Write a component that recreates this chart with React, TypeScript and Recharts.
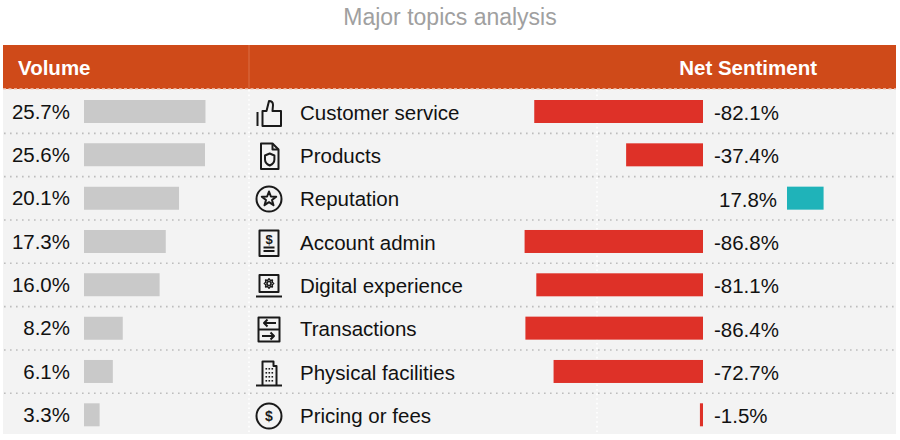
import React from 'react';
import { BarChart, Bar, XAxis, YAxis, LabelList, Cell } from 'recharts';

const topics = [
  'Customer service',
  'Products',
  'Reputation',
  'Account admin',
  'Digital experience',
  'Transactions',
  'Physical facilities',
  'Pricing or fees',
];
const volume = [25.7, 25.6, 20.1, 17.3, 16.0, 8.2, 6.1, 3.3];
const sentiment = [-82.1, -37.4, 17.8, -86.8, -81.1, -86.4, -72.7, -1.5];
const icons = ['thumb', 'doc', 'star', 'bill', 'laptop', 'swap', 'building', 'dollar'];

const FONT = '"Liberation Sans", Arial, Helvetica, sans-serif';
const ORANGE = '#CF4A19';
const RED = '#DE3128';
const TEAL = '#1FB3B9';
const TEXT = '#111';
const FS = 20.5;
const ROW_TOP = 90;
const ROW_H = 43.33;
const BODY_H = ROW_H * topics.length;

const rows = topics.map((topic, i) => ({
  topic,
  volume: volume[i],
  sentiment: sentiment[i],
  icon: icons[i],
}));

const pct = (v: number) => `${v.toFixed(1)}%`;

// positive bars sit to the right of their label, like the original
function SentimentShape(props: any) {
  const { x, y, width, height, fill, value } = props;
  const v = Array.isArray(value) ? value[1] - value[0] : value;
  const x0 = Math.min(x, x + width);
  const w = Math.abs(width);
  const shift = v > 0 ? 84 : 0;
  return <rect x={x0 + shift} y={y} width={w} height={height} fill={fill} />;
}

function SentimentLabel(props: any) {
  const { x, y, width, height, value } = props;
  const zero = value < 0 ? Math.max(x, x + width) : Math.min(x, x + width);
  return (
    <text
      x={zero + (value < 0 ? 11 : 16)}
      y={y + height / 2 + 1}
      dominantBaseline="central"
      textAnchor="start"
      fontSize={FS}
      fontFamily={FONT}
      fill={TEXT}
    >
      {pct(value)}
    </text>
  );
}

function Icon({ kind }: { kind: string }) {
  const s = { fill: 'none', stroke: '#1a1a1a', strokeWidth: 2, strokeLinejoin: 'round' as const };
  let body: React.ReactNode = null;
  if (kind === 'thumb') {
    body = (
      <g {...s}>
        <line x1="3.5" y1="14" x2="3.5" y2="28" />
        <path d="M8.5 13 L12.5 13 L15 3 Q19 3 19 7 L18.5 13 L27 13 L27 28 L8.5 28 Z" />
      </g>
    );
  } else if (kind === 'doc') {
    body = (
      <g {...s}>
        <path d="M7 2.5 H18.5 L24.5 8.5 V28 H7 Z" />
        <path d="M18.5 2.5 V8.5 H24.5" />
        <path d="M11 14.5 L15.7 12.5 L20.4 14.5 V18.5 Q20.4 22.5 15.7 24.5 Q11 22.5 11 18.5 Z" />
      </g>
    );
  } else if (kind === 'star') {
    body = (
      <g {...s}>
        <circle cx="15" cy="15" r="12.5" />
        <path d="M15 7.5 L16.9 12.5 L22.2 12.7 L18 16 L19.5 21.2 L15 18.2 L10.5 21.2 L12 16 L7.8 12.7 L13.1 12.5 Z" />
      </g>
    );
  } else if (kind === 'bill') {
    body = (
      <g>
        <rect x="5.5" y="2.5" width="19" height="25.5" {...s} />
        <text x="15" y="15.5" textAnchor="middle" fontSize="13" fontWeight="bold" fontFamily={FONT} fill="#1a1a1a">$</text>
        <line x1="9.5" y1="19.5" x2="20.5" y2="19.5" {...s} />
        <line x1="9.5" y1="23" x2="20.5" y2="23" {...s} />
      </g>
    );
  } else if (kind === 'laptop') {
    body = (
      <g {...s}>
        <rect x="5.5" y="4" width="19" height="17" />
        <circle cx="15" cy="12.5" r="2" strokeWidth={1.6} />
        <path
          d="M15 7.8 L16.3 9.4 L18.4 9.1 L18.2 11.2 L19.7 12.5 L18.2 13.8 L18.4 15.9 L16.3 15.6 L15 17.2 L13.7 15.6 L11.6 15.9 L11.8 13.8 L10.3 12.5 L11.8 11.2 L11.6 9.1 L13.7 9.4 Z"
          strokeWidth={1.5}
        />
        <line x1="2" y1="25.5" x2="28" y2="25.5" />
      </g>
    );
  } else if (kind === 'swap') {
    body = (
      <g {...s}>
        <rect x="4.5" y="3.5" width="21" height="24" />
        <line x1="4.5" y1="15.5" x2="25.5" y2="15.5" />
        <path d="M22 9 H10 M13.5 5.5 L10 9 L13.5 12.5" />
        <path d="M8 22 H20 M16.5 18.5 L20 22 L16.5 25.5" />
      </g>
    );
  } else if (kind === 'building') {
    body = (
      <g>
        <path d="M8.5 27 V3.5 H19.5 V8 H22.5 V27" {...s} />
        <line x1="2" y1="27.5" x2="28" y2="27.5" {...s} />
        {[10, 14, 18, 22].map((yy) =>
          [11.5, 14.5, 17.5].map((xx) => <rect key={`${xx}-${yy}`} x={xx} y={yy} width="1.6" height="1.6" fill="#1a1a1a" />)
        )}
      </g>
    );
  } else if (kind === 'dollar') {
    body = (
      <g>
        <circle cx="15" cy="15" r="12.5" {...s} />
        <text x="15" y="20" textAnchor="middle" fontSize="14" fontWeight="bold" fontFamily={FONT} fill="#1a1a1a">$</text>
      </g>
    );
  }
  return (
    <svg width={30} height={30} viewBox="0 0 30 30" style={{ display: 'block' }}>
      {body}
    </svg>
  );
}

export default function App() {
  const dotted = { stroke: '#bdbdbd', strokeWidth: 1.6, strokeDasharray: '1.6 4.4', strokeLinecap: 'butt' as const };
  return (
    <div
      style={{
        position: 'absolute',
        left: 0,
        top: 0,
        width: 900,
        height: 440,
        background: '#fff',
        fontFamily: FONT,
        overflow: 'hidden',
      }}
    >
      <div
        style={{
          position: 'absolute',
          left: 0,
          top: 4,
          width: 900,
          textAlign: 'center',
          fontSize: 23,
          color: '#a0a0a0',
        }}
      >
        Major topics analysis
      </div>

      {/* header band */}
      <div style={{ position: 'absolute', left: 3, top: 45, width: 893, height: 44, background: ORANGE }} />
      <div style={{ position: 'absolute', left: 18, top: 46, height: 44, lineHeight: '44px', fontSize: FS, fontWeight: 'bold', color: '#fff' }}>
        Volume
      </div>
      <div style={{ position: 'absolute', right: 900 - 817, top: 46, height: 44, lineHeight: '44px', fontSize: FS, fontWeight: 'bold', color: '#fff' }}>
        Net Sentiment
      </div>

      {/* body background */}
      <div style={{ position: 'absolute', left: 3, top: 89, width: 893, height: 345, background: '#f3f3f3' }} />

      <svg width={900} height={440} style={{ position: 'absolute', left: 0, top: 0 }}>
        <line x1={249} y1={45} x2={249} y2={89} stroke="#d8693f" strokeWidth={1.2} />
        <line x1={3} y1={89} x2={896} y2={89} stroke="#f3cdbd" strokeWidth={1.6} strokeDasharray="3 2.5" />
        {topics.slice(1).map((_, i) => {
          const yy = ROW_TOP + ROW_H * (i + 1);
          return <line key={i} x1={4} y1={yy} x2={896} y2={yy} {...dotted} />;
        })}
        <line x1={249} y1={90} x2={249} y2={434} stroke="#ffffff" strokeWidth={1.6} strokeDasharray="1.6 3" />
        <line x1={597} y1={90} x2={597} y2={434} stroke="#ffffff" strokeWidth={1.6} strokeDasharray="1.6 3" />
      </svg>

      {/* topic icons and names */}
      {rows.map((r, i) => (
        <div
          key={r.topic}
          style={{
            position: 'absolute',
            left: 254,
            top: ROW_TOP + ROW_H * i + 1,
            height: ROW_H,
            display: 'flex',
            alignItems: 'center',
            fontSize: FS,
            color: TEXT,
          }}
        >
          <Icon kind={r.icon} />
          <span style={{ marginLeft: 16 }}>{r.topic}</span>
        </div>
      ))}

      {/* volume bars */}
      <div style={{ position: 'absolute', left: 0, top: ROW_TOP }}>
        <BarChart
          width={240}
          height={BODY_H}
          data={rows}
          layout="vertical"
          margin={{ top: 0, right: 0, bottom: 0, left: 84 }}
          barCategoryGap={0}
        >
          <XAxis type="number" domain={[0, 33]} hide />
          <YAxis type="category" dataKey="topic" hide width={0} />
          <Bar dataKey="volume" fill="#c9c9c9" barSize={23} isAnimationActive={false}>
            <LabelList
              dataKey="volume"
              position="left"
              offset={14}
              formatter={(v: any) => pct(Number(v))}
              style={{ fontSize: FS, fontFamily: FONT, fill: TEXT }}
            />
          </Bar>
        </BarChart>
      </div>

      {/* net sentiment bars */}
      <div style={{ position: 'absolute', left: 518, top: ROW_TOP }}>
        <BarChart
          width={370}
          height={BODY_H}
          data={rows}
          layout="vertical"
          margin={{ top: 0, right: 0, bottom: 0, left: 0 }}
          barCategoryGap={0}
        >
          <XAxis type="number" domain={[-90, 90]} hide />
          <YAxis type="category" dataKey="topic" hide width={0} />
          <Bar dataKey="sentiment" barSize={23} shape={SentimentShape} isAnimationActive={false}>
            {rows.map((r) => (
              <Cell key={r.topic} fill={r.sentiment < 0 ? RED : TEAL} />
            ))}
            <LabelList dataKey="sentiment" content={SentimentLabel} />
          </Bar>
        </BarChart>
      </div>
    </div>
  );
}
